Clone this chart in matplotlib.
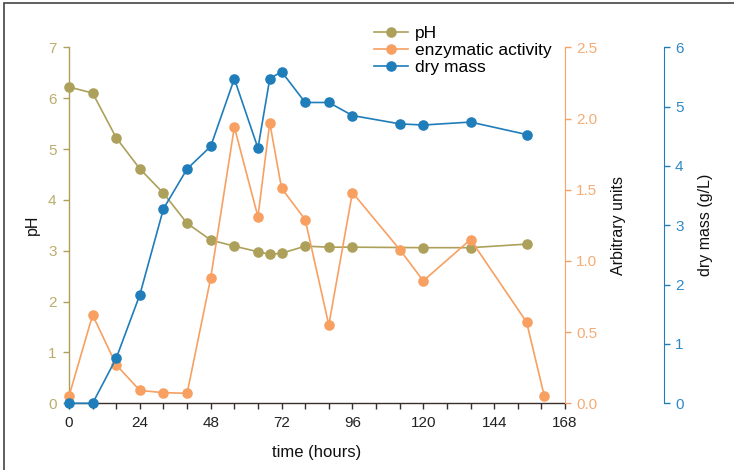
import matplotlib
matplotlib.use("Agg")
import matplotlib.pyplot as plt
from matplotlib.ticker import MultipleLocator, FormatStrFormatter
from matplotlib.patches import Rectangle

plt.rcParams['font.family'] = ['Liberation Sans', 'DejaVu Sans']

# Fermentation time course
hours_ph = [0, 8, 16, 24, 32, 40, 48, 56, 64, 68, 72, 80, 88, 96, 120, 136, 155]
ph = [6.22, 6.10, 5.22, 4.61, 4.13, 3.54, 3.21, 3.09, 2.98, 2.93, 2.95, 3.09, 3.07,
      3.07, 3.06, 3.06, 3.13]

hours_enz = [0, 8, 16, 24, 32, 40, 48, 56, 64, 68, 72, 80, 88, 96, 112, 120, 136, 155, 161]
enzyme = [0.05, 0.62, 0.27, 0.09, 0.075, 0.07, 0.88, 1.94, 1.31, 1.97, 1.51, 1.29, 0.55,
          1.48, 1.08, 0.86, 1.15, 0.57, 0.05]

hours_dm = [0, 8, 16, 24, 32, 40, 48, 56, 64, 68, 72, 80, 88, 96, 112, 120, 136, 155]
dry_mass = [0.0, 0.0, 0.76, 1.83, 3.28, 3.95, 4.33, 5.47, 4.30, 5.47, 5.59, 5.07, 5.07,
            4.85, 4.71, 4.69, 4.74, 4.53]

x_ticks = [0, 24, 48, 72, 96, 120, 144, 168]

c_ph = '#ADA05A'
c_ph_txt = '#BBAD6C'
c_enz = '#F7A062'
c_enz_txt = '#F5AC74'
c_dm = '#1F7DBA'
c_dm_txt = '#3089C4'
c_axis = '#3A2E2A'

fig = plt.figure(figsize=(7.34, 4.70), dpi=100)
ax = fig.add_axes([69 / 734, 1 - 403.3 / 470, 496 / 734, 356 / 470])
ax2 = ax.twinx()
ax3 = ax.twinx()

mk = dict(marker='o', markersize=6.6, linewidth=1.2, clip_on=False)
l1, = ax.plot(hours_ph, ph, color=c_ph, label='pH', **mk)
l2, = ax2.plot(hours_enz, enzyme, color=c_enz, label='enzymatic activity', **mk)
l3, = ax3.plot(hours_dm, dry_mass, color=c_dm, label='dry mass', **mk)

ax.set_xlim(0, 168)
ax.set_ylim(0, 7)
ax2.set_ylim(0, 2.5)
ax3.set_ylim(0, 6)

ax.set_xticks(x_ticks)
ax.xaxis.set_minor_locator(MultipleLocator(8))
ax.yaxis.set_major_locator(MultipleLocator(1))
ax2.yaxis.set_major_locator(MultipleLocator(0.5))
ax2.yaxis.set_major_formatter(FormatStrFormatter('%.1f'))
ax3.yaxis.set_major_locator(MultipleLocator(1))

for a in (ax, ax2, ax3):
    a.spines['top'].set_visible(False)
    a.patch.set_visible(False)

ax.spines['right'].set_visible(False)
ax.spines['left'].set_color(c_ph)
ax.spines['bottom'].set_color(c_axis)
ax.spines['left'].set_linewidth(1.0)
ax.spines['bottom'].set_linewidth(1.0)

ax2.spines['left'].set_visible(False)
ax2.spines['bottom'].set_visible(False)
ax2.spines['right'].set_color(c_enz)

ax3.spines['left'].set_visible(False)
ax3.spines['bottom'].set_visible(False)
ax3.spines['right'].set_position(('axes', (664 - 69) / 496))
ax3.spines['right'].set_color(c_dm)

ax.tick_params(axis='x', which='both', direction='out', length=4, width=1.0,
               color=c_axis, labelsize=11, labelcolor='#222222', pad=5)
ax.tick_params(axis='y', direction='out', length=4, width=1.0, color=c_ph,
               labelsize=11, labelcolor=c_ph_txt, pad=5)
ax2.tick_params(axis='y', direction='out', length=4, width=1.0, color=c_enz,
                labelsize=11, labelcolor=c_enz_txt, pad=4)
ax3.tick_params(axis='y', direction='out', length=4, width=1.0, color=c_dm,
                labelsize=11, labelcolor=c_dm_txt, pad=4)

ax.set_xlabel('time (hours)', fontsize=12, color='#111111')
ax.xaxis.set_label_coords(0.5, -(445 - 403.3) / 356, transform=ax.transAxes)
ax.set_ylabel('pH', fontsize=11.5, color='#111111')
ax.yaxis.set_label_coords(-(69 - 40) / 496, 0.5)
ax2.set_ylabel('Arbitrary units', fontsize=11.5, color='#111111')
ax2.yaxis.set_label_coords((611 - 69) / 496, 0.5)
ax3.set_ylabel('dry mass (g/L)', fontsize=11.5, color='#111111')
ax3.yaxis.set_label_coords((698 - 69) / 496, 0.5)

fig.legend(handles=[l1, l2, l3], loc='upper left',
           bbox_to_anchor=(365 / 734, 1 - 17 / 470), frameon=False,
           fontsize=12.5, borderpad=0, handlelength=2.0, handletextpad=0.4,
           labelspacing=0.1)

# thin frame around the figure
fig.patches.append(Rectangle((4 / 734, -0.05), 1.2, 1 - 3 / 470 + 0.05,
                             transform=fig.transFigure, fill=False,
                             edgecolor='#444444', linewidth=1.2))

fig.savefig('out.png', dpi=100)
